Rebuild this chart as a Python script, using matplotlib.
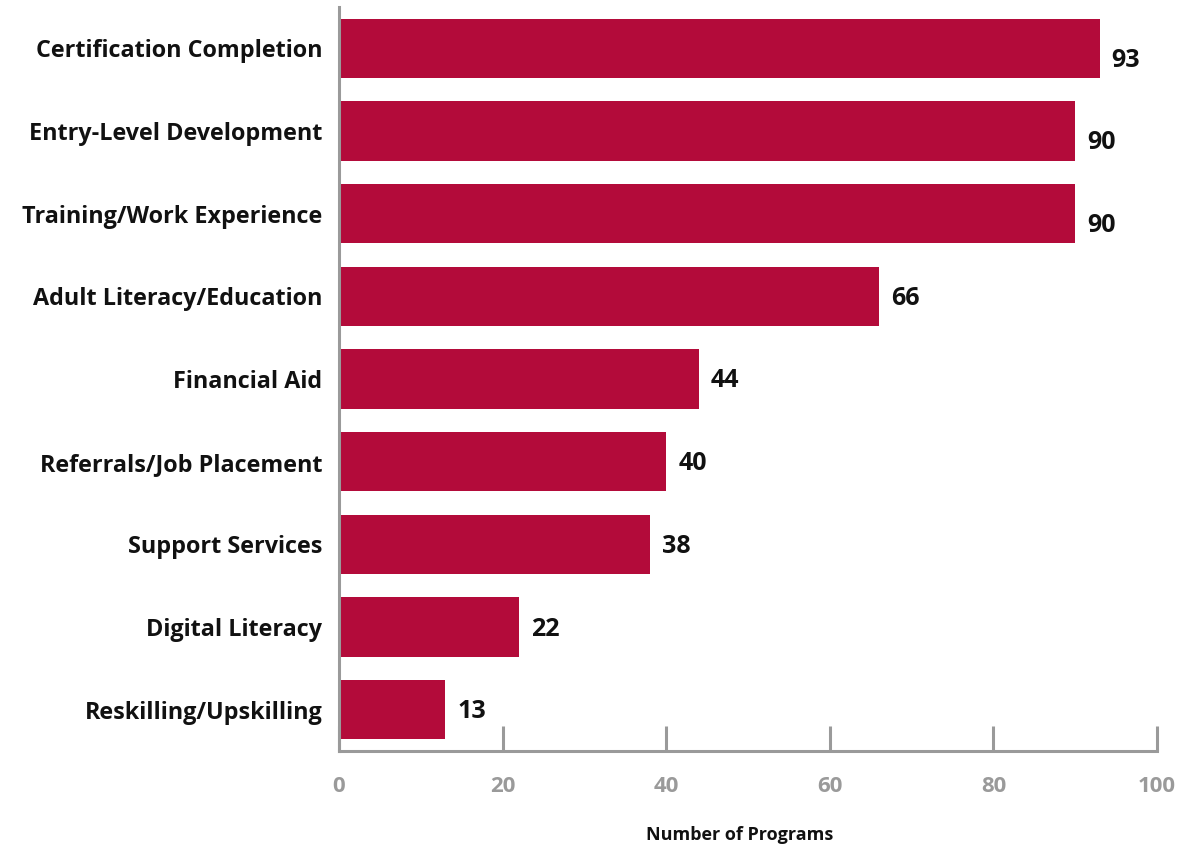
import matplotlib
matplotlib.use("Agg")
import matplotlib.pyplot as plt
from matplotlib import transforms

categories = [
    "Certification Completion",
    "Entry-Level Development",
    "Training/Work Experience",
    "Adult Literacy/Education",
    "Financial Aid",
    "Referrals/Job Placement",
    "Support Services",
    "Digital Literacy",
    "Reskilling/Upskilling",
]
programs = [93, 90, 90, 66, 44, 40, 38, 22, 13]
x_ticks = [0, 20, 40, 60, 80, 100]

BAR = "#B30B3A"
AXIS = "#9A9A9A"
FONT = ["Open Sans", "DejaVu Sans"]

plt.rcParams["font.family"] = FONT
plt.rcParams["font.weight"] = "bold"

fig = plt.figure(figsize=(11.92, 8.48), dpi=100)
ax = fig.add_axes([339 / 1192, 97 / 848, (1157 - 339) / 1192, (751 - 7) / 848])

y = list(range(len(categories)))
ax.barh(y, programs, height=0.72, color=BAR, zorder=2)

ax.set_xlim(0, 100)
ax.set_ylim(len(categories) - 0.5, -0.5)

for side in ("top", "right"):
    ax.spines[side].set_visible(False)
for side in ("left", "bottom"):
    ax.spines[side].set_color(AXIS)
    ax.spines[side].set_linewidth(2.2)

ax.set_yticks(y)
ax.set_yticklabels(categories, fontsize=16.8, fontweight="bold", color="#111111")
ax.tick_params(axis="y", length=0, pad=12)

ax.set_xticks(x_ticks)
ax.set_xticklabels([str(t) for t in x_ticks], fontsize=16, fontweight="bold", color=AXIS)
ax.tick_params(axis="x", direction="in", length=18, width=2.2, color=AXIS, pad=-4)
for lbl in ax.get_xticklabels():
    lbl.set_transform(lbl.get_transform() + transforms.ScaledTranslation(0, -31 / 100, fig.dpi_scale_trans))

fig.text(740 / 1192, 1 - 835 / 848, "Number of Programs", ha="center", va="center",
         fontsize=13, fontweight="bold", color="#111111")

for i, v in enumerate(programs):
    dy = 12 if v >= 85 else 2
    off = transforms.ScaledTranslation(12 / 100, -dy / 100, fig.dpi_scale_trans)
    ax.text(v, i, str(v), transform=ax.transData + off, ha="left", va="center",
            fontsize=18, fontweight="bold", color="#111111")

fig.savefig("out.png", dpi=100)
